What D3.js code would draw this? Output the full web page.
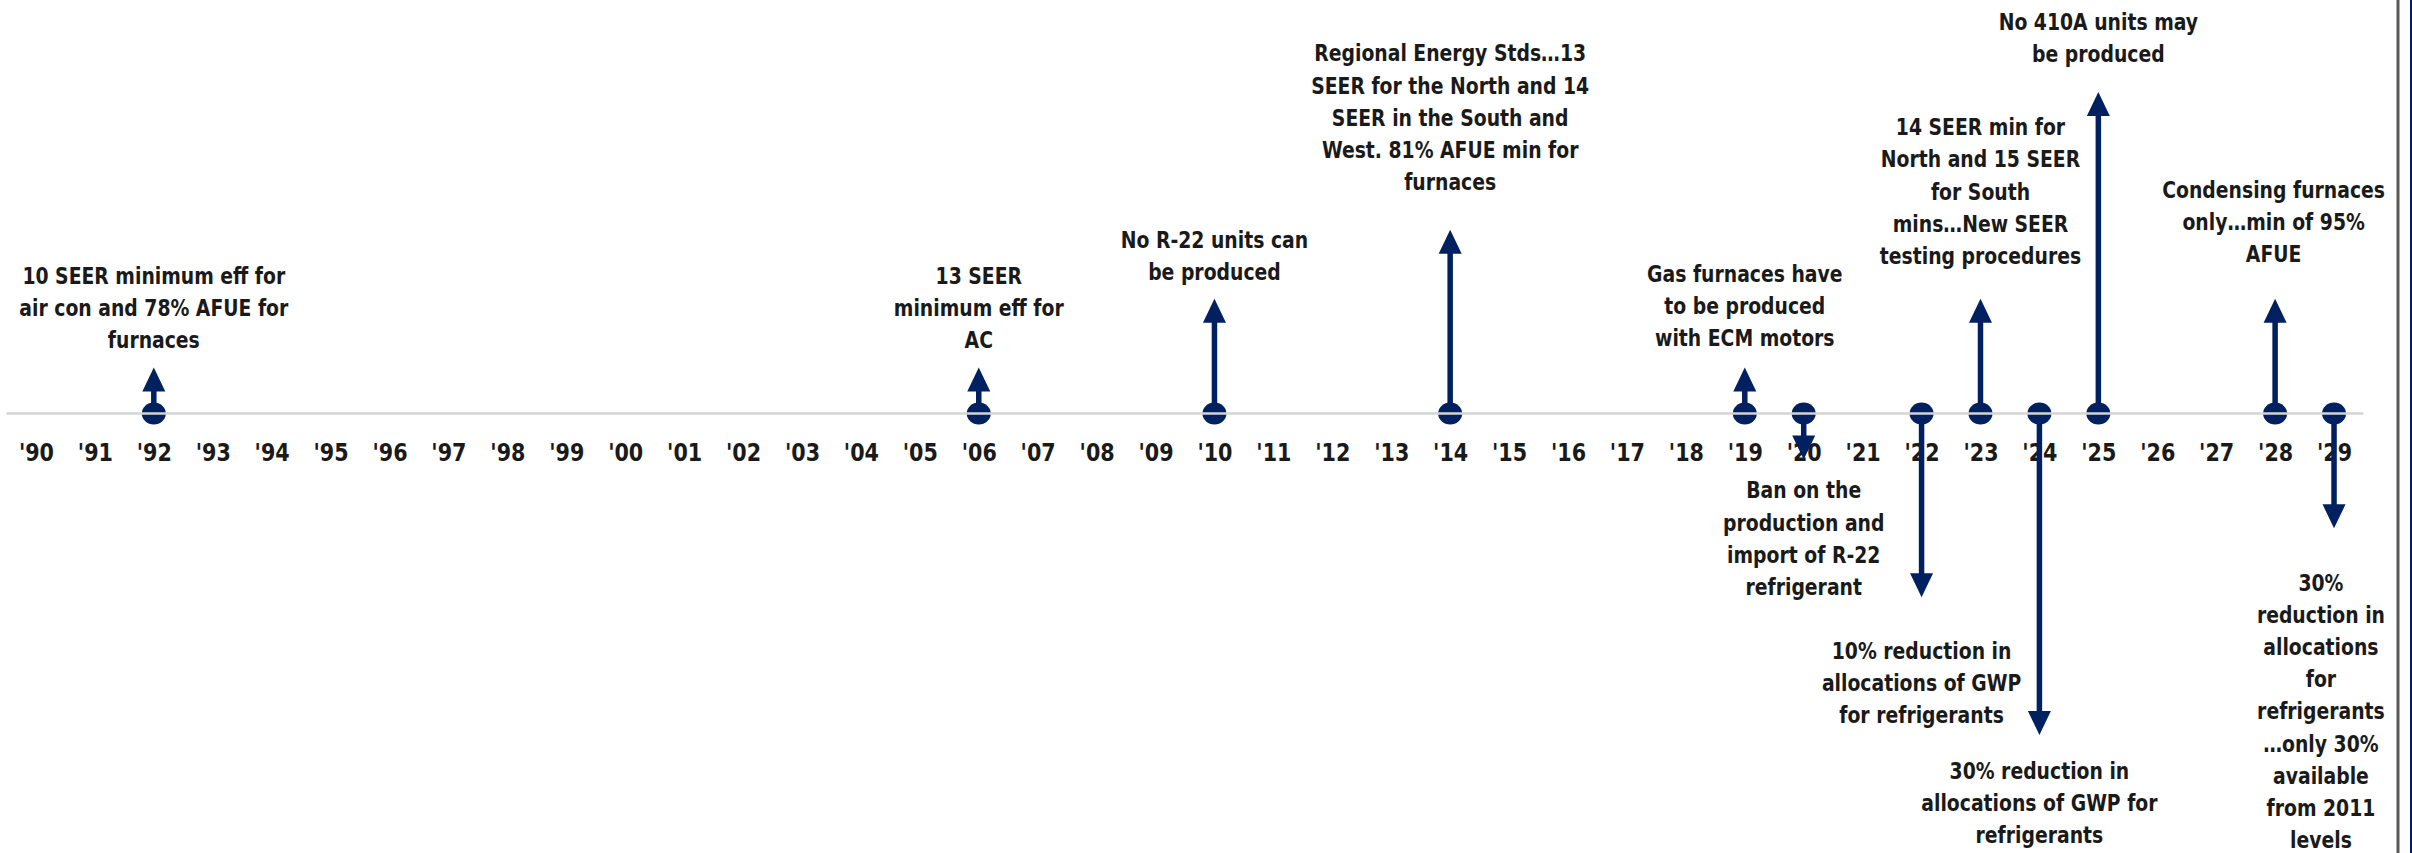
<!DOCTYPE html>
<html>
<head>
<meta charset="utf-8">
<script src="https://cdn.jsdelivr.net/npm/d3@7"></script>
<style>
  body { margin: 0; background: #fff; }
  svg { display: block; }
  text { font-family: 'Liberation Sans Narrow', 'DejaVu Sans Condensed', 'Open Sans', sans-serif; font-weight: bold; fill: #1a1a1a; }
</style>
</head>
<body>
<svg width="2412" height="853"></svg>
<script>
const tickLabels = ["'90", "'91", "'92", "'93", "'94", "'95", "'96", "'97", "'98", "'99",
                    "'00", "'01", "'02", "'03", "'04", "'05", "'06", "'07", "'08", "'09",
                    "'10", "'11", "'12", "'13", "'14", "'15", "'16", "'17", "'18", "'19",
                    "'20", "'21", "'22", "'23", "'24", "'25", "'26", "'27", "'28", "'29"];

const eventYears  = ["'92", "'06", "'10", "'14", "'19", "'20", "'22", "'23", "'24", "'25", "'28", "'29"];
const eventValues = [1, 1, 2.5, 4, 1, -1, -4, 2.5, -7, 7, 2.5, -2.5];
// where each annotation sits, in the same units as the arrows
const labelLevels = [1.6, 1.6, 3.08, 5.04, 1.64, -1.67, -5.17, 3.43, -7.78, 7.83, 3.47, -3.68];
const eventTexts = [
    ['10 SEER minimum eff for', 'air con and 78% AFUE for', 'furnaces'],
    ['13 SEER', 'minimum eff for', 'AC'],
    ['No R-22 units can', 'be produced'],
    ['Regional Energy Stds\u202613', 'SEER for the North and 14', 'SEER in the South and', 'West. 81% AFUE min for', 'furnaces'],
    ['Gas furnaces have', 'to be produced', 'with ECM motors'],
    ['Ban on the', 'production and', 'import of R-22', 'refrigerant'],
    ['10% reduction in', 'allocations of GWP', 'for refrigerants'],
    ['14 SEER min for', 'North and 15 SEER', 'for South', 'mins\u2026New SEER', 'testing procedures'],
    ['30% reduction in', 'allocations of GWP for', 'refrigerants'],
    ['No 410A units may', 'be produced'],
    ['Condensing furnaces', 'only\u2026min of 95%', 'AFUE'],
    ['30%', 'reduction in', 'allocations', 'for', 'refrigerants', '\u2026only 30%', 'available', 'from 2011', 'levels']
];

const svg = d3.select('svg');
const width = +svg.attr('width');
const height = +svg.attr('height');
const navy = '#002060';

const x = d3.scalePoint().domain(tickLabels).range([6.5, 2363.5]).padding(0.5);
const y = d3.scaleLinear().domain([-7, 7]).range([735, 92]);
const y0 = y(0);

// fit the font so the text width matches the original (Calibri-like) sizing
const probe = svg.append('text').attr('font-size', 100).text('Regional Energy Stds\u202613');
const fontSize = 100 * 272 / probe.node().getComputedTextLength();
probe.remove();
const stretch = 1.11; // Calibri is taller than the fallback at equal width
const lineGap = 32.2;

// year labels
const axis = svg.append('g')
    .attr('transform', `translate(0,${y0})`)
    .call(d3.axisBottom(x).tickSize(0).tickPadding(0));
axis.select('.domain').remove();
axis.selectAll('text')
    .attr('y', 0)
    .attr('dy', '0.35em')
    .attr('transform', `translate(0,39) scale(1,${stretch})`)
    .attr('font-size', fontSize * 1.1)
    .attr('font-family', null)
    .attr('fill', '#1a1a1a');

// arrows
const headLen = 24, headHalf = 11.5, shaft = 5.5;
const marks = svg.append('g');
eventYears.forEach((yr, i) => {
    const cx = x(yr);
    const tip = y(eventValues[i]);
    const dir = Math.sign(eventValues[i]); // +1 up
    const base = tip + dir * headLen;
    marks.append('line')
        .attr('x1', cx).attr('x2', cx)
        .attr('y1', y0).attr('y2', base + dir * -1)
        .attr('stroke', navy)
        .attr('stroke-width', shaft);
    marks.append('path')
        .attr('d', `M${cx},${tip}L${cx + headHalf},${base}L${cx - headHalf},${base}Z`)
        .attr('fill', navy);
    marks.append('ellipse')
        .attr('cx', cx).attr('cy', y0)
        .attr('rx', 12).attr('ry', 11)
        .attr('fill', navy);
});

// baseline over the dots
svg.append('line')
    .attr('x1', x.range()[0]).attr('x2', x.range()[1])
    .attr('y1', y0).attr('y2', y0)
    .attr('stroke', '#d4d4d4')
    .attr('stroke-width', 2.5);

// annotations
const rightLimit = 2385;
eventYears.forEach((yr, i) => {
    const lines = eventTexts[i];
    const anchorY = y(labelLevels[i]);
    const up = eventValues[i] > 0;
    const firstY = up ? anchorY - (lines.length - 1) * lineGap : anchorY;
    const g = svg.append('g')
        .attr('transform', `translate(${x(yr)},${firstY}) scale(1,${stretch})`);
    const t = g.append('text')
        .attr('text-anchor', 'middle')
        .attr('font-size', fontSize);
    t.selectAll('tspan')
        .data(lines)
        .join('tspan')
        .attr('x', 0)
        .attr('y', (d, j) => j * lineGap / stretch)
        .attr('dy', '0.35em')
        .text(d => d);
    const box = t.node().getBBox();
    const right = x(yr) + box.x + box.width;
    if (right > rightLimit) {
        g.attr('transform', `translate(${x(yr) - (right - rightLimit)},${firstY}) scale(1,${stretch})`);
    }
});

// frame on the right
svg.append('line')
    .attr('x1', 2398).attr('x2', 2398)
    .attr('y1', 0).attr('y2', height)
    .attr('stroke', '#595959')
    .attr('stroke-width', 3);
svg.append('rect')
    .attr('x', 2410).attr('y', 0)
    .attr('width', 2).attr('height', height)
    .attr('fill', navy);
</script>
</body>
</html>
